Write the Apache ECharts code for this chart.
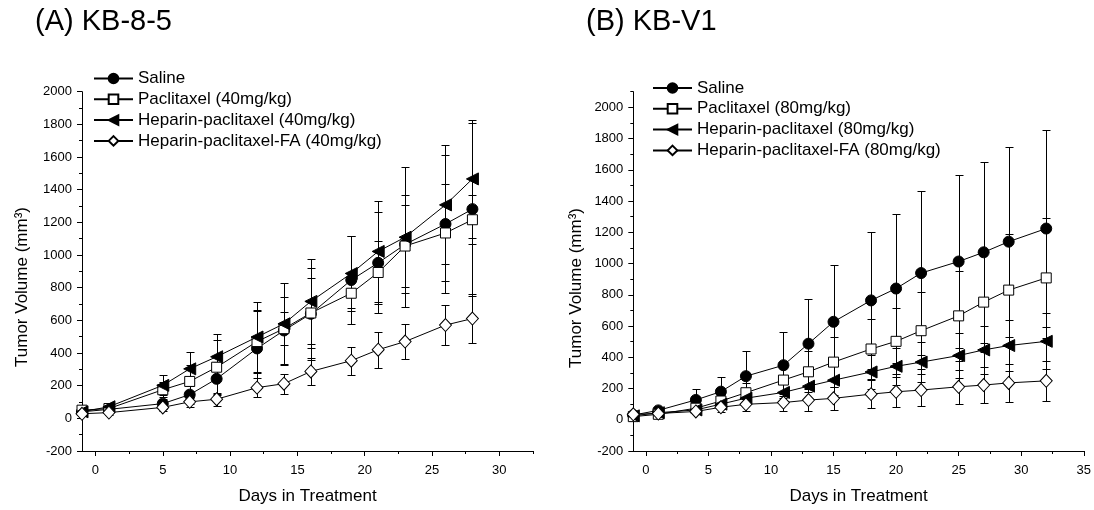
<!DOCTYPE html>
<html><head><meta charset="utf-8">
<script src="https://cdn.jsdelivr.net/npm/echarts@6/dist/echarts.min.js"></script>
<style>html,body{margin:0;padding:0;background:#fff}#c{width:1094px;height:510px}</style>
</head><body><div id="c"></div>
<script>
// ---------- Panel A: KB-8-5 ----------
const daysA = [-1, 1, 5, 7, 9, 12, 14, 16, 19, 21, 23, 26, 28];
const salineA = [40, 55, 90, 145, 242, 428, 538, 640, 847, 952, 1065, 1190, 1281];
const salineSdA = [10, 15, 30, 60, 100, 234, 208, 282, 270, 310, 300, 424, 530];
const pacA = [50, 60, 175, 226, 313, 470, 549, 645, 766, 893, 1055, 1135, 1216];
const pacSdA = [15, 15, 45, 100, 167, 190, 100, 212, 90, 190, 250, 297, 150];
const hepA = [40, 71, 202, 303, 377, 498, 579, 716, 887, 1022, 1109, 1307, 1466];
const hepSdA = [10, 15, 62, 105, 138, 214, 252, 262, 232, 307, 430, 365, 363];
const faA = [28, 35, 67, 101, 117, 188, 212, 287, 353, 420, 470, 571, 611];
const faSdA = [10, 12, 20, 30, 40, 57, 60, 80, 85, 110, 105, 125, 148];
const namesA = ['Saline', 'Paclitaxel (40mg/kg)', 'Heparin-paclitaxel (40mg/kg)', 'Heparin-paclitaxel-FA (40mg/kg)'];
const xLabelsA = [0, 5, 10, 15, 20, 25, 30];
const xMinorA = [2.5, 7.5, 12.5, 17.5, 22.5, 27.5, 32.5];

// ---------- Panel B: KB-V1 ----------
const daysB = [-1, 1, 4, 6, 8, 11, 13, 15, 18, 20, 22, 25, 27, 29, 32];
const salineB = [30, 60, 127, 180, 279, 349, 487, 627, 764, 840, 939, 1013, 1072, 1140, 1224];
const salineSdB = [10, 15, 68, 95, 161, 211, 283, 366, 439, 479, 524, 555, 578, 608, 633];
const pacB = [20, 35, 74, 120, 173, 254, 307, 369, 453, 502, 570, 665, 753, 830, 908];
const pacSdB = [8, 12, 25, 40, 65, 100, 130, 162, 190, 211, 245, 290, 320, 358, 386];
const hepB = [25, 45, 63, 100, 138, 175, 215, 253, 306, 342, 369, 411, 447, 475, 502];
const hepSdB = [8, 12, 20, 30, 45, 60, 80, 95, 110, 120, 130, 145, 155, 165, 180];
const faB = [35, 40, 53, 80, 99, 110, 126, 137, 164, 179, 190, 211, 222, 236, 249];
const faSdB = [8, 10, 15, 30, 45, 55, 70, 75, 90, 95, 100, 110, 115, 124, 130];
const namesB = ['Saline', 'Paclitaxel (80mg/kg)', 'Heparin-paclitaxel (80mg/kg)', 'Heparin-paclitaxel-FA (80mg/kg)'];
const xLabelsB = [0, 5, 10, 15, 20, 25, 30, 35];
const xMinorB = [2.5, 7.5, 12.5, 17.5, 22.5, 27.5, 32.5];

// ---------- shared y ticks ----------
const yLabels = [-200, 0, 200, 400, 600, 800, 1000, 1200, 1400, 1600, 1800, 2000];
const yMinorA = [-100, 100, 300, 500, 700, 900, 1100, 1300, 1500, 1700, 1900];
const yMinorB = [-100, 100, 300, 500, 700, 900, 1100, 1300, 1500, 1700, 1900, 2100];

const titles = ['(A) KB-8-5', '(B) KB-V1'];
const yTitle = 'Tumor Volume (mm\u00B3)';
const xTitle = 'Days in Treatment';

const FONT = '"Liberation Sans", Arial, sans-serif';
const BLACK = '#000';

const markerStyles = [
  { symbol: 'circle', symbolSize: 11, symbolRotate: 0, itemStyle: { color: BLACK, borderColor: BLACK, borderWidth: 1 } },
  { symbol: 'rect', symbolSize: 10, symbolRotate: 0, itemStyle: { color: '#fff', borderColor: BLACK, borderWidth: 1 } },
  { symbol: 'triangle', symbolSize: 12, symbolRotate: 90, itemStyle: { color: BLACK, borderColor: BLACK, borderWidth: 1 } },
  { symbol: 'diamond', symbolSize: [12, 13], symbolRotate: 0, itemStyle: { color: '#fff', borderColor: BLACK, borderWidth: 1 } }
];

function lineSeries(name, days, vals, idx, axisIdx) {
  const m = markerStyles[idx];
  return {
    type: 'line', name: name, xAxisIndex: axisIdx, yAxisIndex: axisIdx,
    data: days.map((d, i) => [d, vals[i]]),
    symbol: m.symbol, symbolSize: m.symbolSize, symbolRotate: m.symbolRotate,
    showAllSymbol: true, clip: false, z: 3 + idx, animation: false,
    lineStyle: { color: BLACK, width: 1 },
    itemStyle: m.itemStyle,
    emphasis: { disabled: true }
  };
}

function errSeries(days, vals, sds, axisIdx) {
  return {
    type: 'custom', xAxisIndex: axisIdx, yAxisIndex: axisIdx, z: 2, animation: false, silent: true,
    data: days.map((d, i) => [d, vals[i] - sds[i], vals[i] + sds[i]]),
    encode: { x: 0, y: [1, 2] },
    renderItem: function (params, api) {
      const x = api.value(0);
      const p1 = api.coord([x, api.value(1)]);
      const p2 = api.coord([x, api.value(2)]);
      const cx = Math.round(p1[0]) + 0.5;
      const y1 = Math.round(p1[1]) + 0.5, y2 = Math.round(p2[1]) + 0.5;
      const w = 4;
      const style = { stroke: BLACK, lineWidth: 1 };
      return { type: 'group', children: [
        { type: 'line', shape: { x1: cx, y1: y1, x2: cx, y2: y2 }, style: style },
        { type: 'line', shape: { x1: cx - w, y1: y1, x2: cx + w, y2: y1 }, style: style },
        { type: 'line', shape: { x1: cx - w, y1: y2, x2: cx + w, y2: y2 }, style: style }
      ]};
    }
  };
}

const plain = v => String(v);

function mainX(grid, max, labels) {
  return {
    type: 'value', gridIndex: grid, min: -1, max: max, position: 'bottom',
    axisLine: { show: true, onZero: false, lineStyle: { color: BLACK, width: 1 } },
    axisTick: { show: true, inside: false, length: 5, customValues: labels, lineStyle: { color: BLACK } },
    axisLabel: { show: true, customValues: labels, formatter: plain, margin: 13, color: BLACK, fontSize: 13, fontFamily: FONT },
    splitLine: { show: false },
    name: xTitle, nameLocation: 'middle', nameGap: 37,
    nameTextStyle: { color: BLACK, fontSize: 17, fontFamily: FONT }
  };
}
function minorX(grid, max, ticks) {
  return {
    type: 'value', gridIndex: grid, min: -1, max: max, position: 'bottom',
    axisLine: { show: false, onZero: false },
    axisTick: { show: true, inside: false, length: 3, customValues: ticks, lineStyle: { color: BLACK } },
    axisLabel: { show: false }, splitLine: { show: false }
  };
}
function mainY(grid, max) {
  return {
    type: 'value', gridIndex: grid, min: -200, max: max, position: 'left',
    axisLine: { show: true, onZero: false, lineStyle: { color: BLACK, width: 1 } },
    axisTick: { show: true, inside: false, length: 5, customValues: yLabels, lineStyle: { color: BLACK } },
    axisLabel: { show: true, customValues: yLabels, formatter: plain, margin: 10, color: BLACK, fontSize: 13, fontFamily: FONT },
    splitLine: { show: false }
  };
}
function minorY(grid, max, ticks) {
  return {
    type: 'value', gridIndex: grid, min: -200, max: max, position: 'left',
    axisLine: { show: false, onZero: false },
    axisTick: { show: true, inside: false, length: 3, customValues: ticks, lineStyle: { color: BLACK } },
    axisLabel: { show: false }, splitLine: { show: false }
  };
}

const series = [];
[[salineA, salineSdA], [pacA, pacSdA], [hepA, hepSdA], [faA, faSdA]].forEach(p => {
  series.push(errSeries(daysA, p[0], p[1], 0));
});
[salineA, pacA, hepA, faA].forEach((v, i) => series.push(lineSeries(namesA[i], daysA, v, i, 0)));
[[salineB, salineSdB], [pacB, pacSdB], [hepB, hepSdB], [faB, faSdB]].forEach(p => {
  series.push(errSeries(daysB, p[0], p[1], 2));
});
[salineB, pacB, hepB, faB].forEach((v, i) => series.push(lineSeries(namesB[i], daysB, v, i, 2)));

const legendBase = {
  orient: 'vertical', itemWidth: 39, itemHeight: 12, itemGap: 3.8, padding: 0,
  selectedMode: false,
  textStyle: { color: BLACK, fontSize: 17, fontFamily: FONT, lineHeight: 17 }
};

const option = {
  backgroundColor: '#fff',
  animation: false,
  title: [
    { text: titles[0], left: 35, top: 7, padding: 0, textStyle: { color: BLACK, fontSize: 29, fontWeight: 'normal', fontFamily: FONT } },
    { text: titles[1], left: 586, top: 7, padding: 0, textStyle: { color: BLACK, fontSize: 29, fontWeight: 'normal', fontFamily: FONT } }
  ],
  legend: [
    Object.assign({}, legendBase, { left: 93, top: 70, data: namesA }),
    Object.assign({}, legendBase, { left: 652, top: 79.5, data: namesB })
  ],
  grid: [
    { left: 82, top: 91.7, width: 451, height: 363, containLabel: false },
    { left: 633.3, top: 91.7, width: 450.7, height: 363.3, containLabel: false }
  ],
  xAxis: [mainX(0, 32.5, xLabelsA), minorX(0, 32.5, xMinorA), mainX(1, 35, xLabelsB), minorX(1, 35, xMinorB)],
  yAxis: [mainY(0, 2000), minorY(0, 2000, yMinorA), mainY(1, 2100), minorY(1, 2100, yMinorB)],
  graphic: [
    { type: 'text', x: 22, y: 287, rotation: Math.PI / 2,
      style: { text: yTitle, fill: BLACK, font: '17px ' + FONT, textAlign: 'center', textVerticalAlign: 'middle' } },
    { type: 'text', x: 576, y: 288, rotation: Math.PI / 2,
      style: { text: yTitle, fill: BLACK, font: '17px ' + FONT, textAlign: 'center', textVerticalAlign: 'middle' } }
  ],
  series: series
};

const chart = echarts.init(document.getElementById('c'), null, { renderer: 'canvas' });
chart.setOption(option);
</script>
</body></html>
